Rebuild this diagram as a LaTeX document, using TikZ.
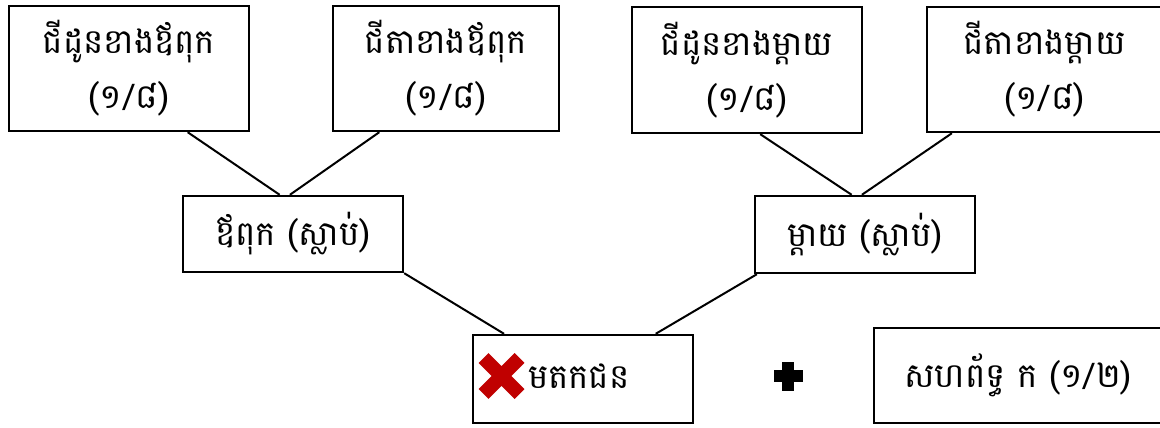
\documentclass[tikz,border=0pt]{standalone}
\usepackage{fontspec}
\newfontfamily\khmer[Script=Khmer]{Battambang}
\usetikzlibrary{calc}
\begin{document}
\begin{tikzpicture}[x=1pt,y=-1pt,
  box/.style={draw,line width=2.4pt,inner sep=0pt,align=center,
    font=\khmer\fontsize{34}{55}\selectfont},
  txt/.style={inner sep=0pt,font=\khmer\fontsize{34}{55}\selectfont},
  link/.style={line width=2pt}]
\useasboundingbox (0,0) rectangle (1160,428);
\fill[white] (0,0) rectangle (1160,428);
% grandparents
\node[box,minimum width=240pt,minimum height=125pt] (pgm) at (129,68.5) {ជីដូនខាងឪពុក\\(១/៨)};
\node[box,minimum width=226pt,minimum height=125pt] (pgf) at (446,68.5) {ជីតាខាងឪពុក\\(១/៨)};
\node[box,minimum width=230pt,minimum height=126pt] (mgm) at (747,70) {ជីដូនខាងម្ដាយ\\(១/៨)};
\node[box,minimum width=235pt,minimum height=125pt] (mgf) at (1044.5,69.5) {ជីតាខាងម្ដាយ\\(១/៨)};
% parents
\node[box,minimum width=220pt,minimum height=76pt] (fa) at (293,234) {ឪពុក (ស្លាប់)};
\node[box,minimum width=220pt,minimum height=77pt] (mo) at (865,234.5) {ម្ដាយ (ស្លាប់)};
% deceased and spouse
\node[box,minimum width=220pt,minimum height=88pt] (dec) at (583,379) {};
\node[txt,anchor=west] (dectxt) at (528,376) {មតកជន};
\node[box,minimum width=288pt,minimum height=95pt] (sp) at (1018,375.5) {សហព័ទ្ធ ក (១/២)};
% red cross
\coordinate (xc) at (501.5,376);
\draw[line width=14pt,color={rgb,255:red,192;green,0;blue,0}]
  ($(xc)+(-18,-18)$) -- ($(xc)+(18,18)$)
  ($(xc)+(-18,18)$) -- ($(xc)+(18,-18)$);
% plus sign
\coordinate (pc) at (788,376);
\fill[black] ($(pc)+(-6,-14.5)$) rectangle ($(pc)+(6,14.5)$);
\fill[black] ($(pc)+(-14.5,-6)$) rectangle ($(pc)+(14.5,6)$);
% connectors
\draw[link] ($(pgm.south west)!0.742!(pgm.south east)$) -- ($(fa.north west)!0.44!(fa.north east)$);
\draw[link] ($(pgf.south west)!0.208!(pgf.south east)$) -- ($(fa.north west)!0.486!(fa.north east)$);
\draw[link] ($(mgm.south west)!0.557!(mgm.south east)$) -- ($(mo.north west)!0.44!(mo.north east)$);
\draw[link] ($(mgf.south west)!0.11!(mgf.south east)$) -- ($(mo.north west)!0.486!(mo.north east)$);
\draw[link] (fa.south east) -- ($(dec.north west)!0.145!(dec.north east)$);
\draw[link] ($(mo.south west)!0.014!(mo.south east)$) -- ($(dec.north west)!0.827!(dec.north east)$);
\end{tikzpicture}
\end{document}
